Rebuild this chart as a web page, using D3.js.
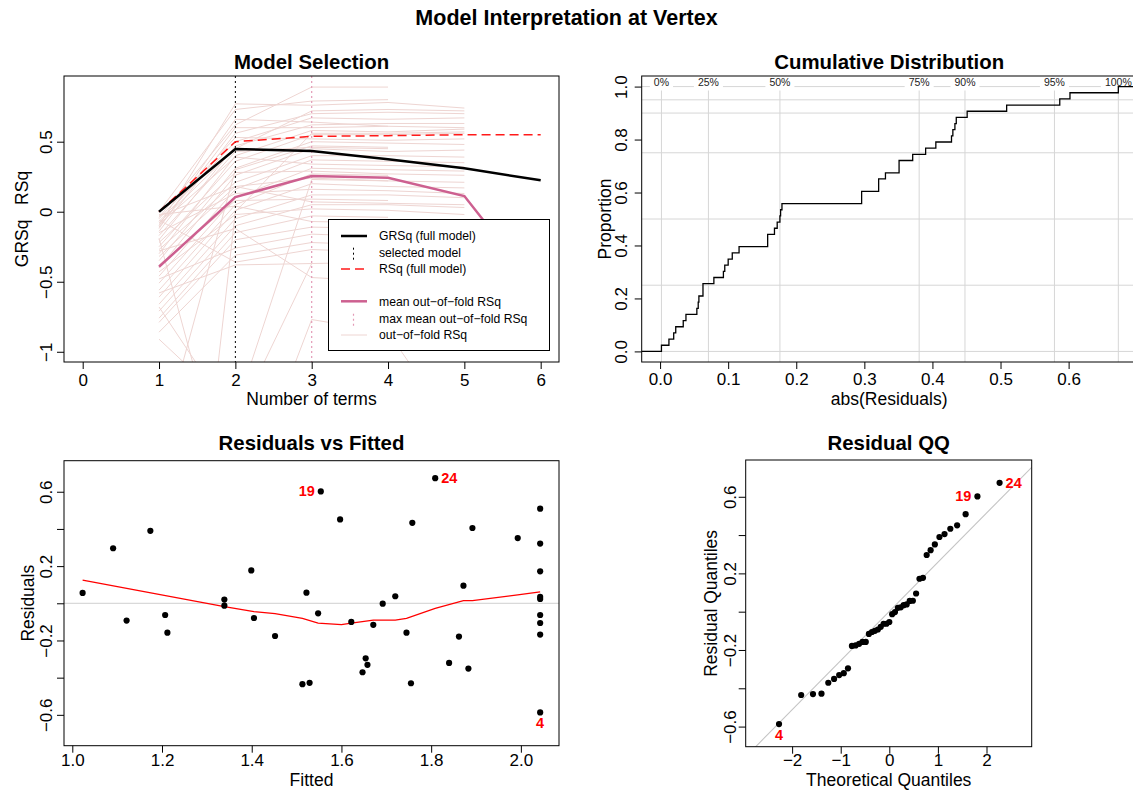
<!DOCTYPE html>
<html><head><meta charset="utf-8">
<script src="https://cdn.jsdelivr.net/npm/d3@7"></script>
<style>body{margin:0;background:#fff} svg{display:block} text{font-family:"Liberation Sans",Arial,Helvetica,sans-serif}</style>
</head><body><svg id="chart" width="1133" height="790"></svg>
<script>
// ================= DATA =================
const mainTitle = "Model Interpretation at Vertex";
// --- Model Selection ---
const termTicks = [0,1,2,3,4,5,6];
const termTickLabels = ["0","1","2","3","4","5","6"];
const rsqTicks = [-1,-0.5,0,0.5];
const rsqTickLabels = ["\u22121","\u22120.5","0","0.5"];
const terms = [1,2,3,4,5,6];
const grsqFull = [0.000, 0.448, 0.433, 0.374, 0.310, 0.224];
const rsqFull = [0.000, 0.500, 0.538, 0.543, 0.550, 0.550];
const meanOofRsq = [-0.393, 0.105, 0.255, 0.243, 0.112, -0.580];
const selectedTerms = 2;
const maxMeanOofTerms = 3;
// out-of-fold RSq per fold (values at 1, 2, 3, ... terms)
const oofRsq = [
  [-0.04, 0.62, 0.89, 0.89],
  [-0.10, 0.77, 0.76, 0.78, 0.74],
  [0.00, 0.73, 0.79, 0.80],
  [-0.14, 0.56, 0.70, 0.71, 0.70],
  [-0.07, 0.50, 0.67, 0.66, 0.67],
  [-0.20, 0.47, 0.62, 0.63, 0.63],
  [-0.12, 0.66, 0.64, 0.61],
  [-0.30, 0.40, 0.58, 0.57, 0.59],
  [-0.25, 0.36, 0.55, 0.55, 0.56],
  [-0.05, 0.53, 0.52, 0.51, 0.52],
  [-0.35, 0.31, 0.50, 0.49, 0.48],
  [-0.17, 0.43, 0.46, 0.45],
  [-0.40, 0.26, 0.45, 0.43, 0.44],
  [-0.27, 0.21, 0.40, 0.40, 0.39],
  [-0.46, 0.16, 0.37, 0.36, 0.35],
  [-0.09, 0.39, 0.34, 0.33, 0.32],
  [-0.51, 0.10, 0.31, 0.30, 0.29],
  [-0.22, 0.28, 0.29, 0.27, 0.26],
  [-0.56, 0.05, 0.27, 0.26],
  [-0.32, 0.18, 0.24, 0.22, 0.21],
  [-0.61, 0.01, 0.20, 0.18, 0.17],
  [-0.15, 0.13, 0.16, 0.15, 0.13],
  [-0.66, -0.05, 0.12, 0.12, 0.10],
  [-0.38, 0.08, 0.09, 0.08],
  [-0.71, -0.10, 0.05, 0.05, 0.03],
  [-0.43, -0.02, 0.02, 0.01, -0.02],
  [-0.76, -0.15, -0.03, -0.04],
  [-0.02, 0.04, -0.07, -0.08],
  [-0.79, -0.20, -0.11, -0.12],
  [-0.48, -0.26, -0.16, -0.18],
  [-0.86, -0.31, -0.22, -0.24],
  [-0.06, -0.36, -0.27, -0.29],
  [-0.91, -1.42, 0.23, 0.22],
  [-0.58, -0.38, -0.37],
  [-1.70, 0.30, 0.47, 0.46],
  [-4.80, 0.00, 0.56, 0.56, 0.57],
  [-0.68, -1.50, -0.37, -0.36],
  [-0.19, -2.20, -0.77, -0.86, -1.65],
  [-0.11, 0.60, 0.60, 0.61, 0.60],
  [-0.08, 0.45, 0.72, 0.73, 0.72],
  [-0.03, 0.18, 0.07, 0.06, 0.05],
  [-0.28, -0.12, -0.47, -0.50]
];
const legendLabels = ["GRSq (full model)","selected model","RSq (full model)","","mean out\u2212of\u2212fold RSq","max mean out\u2212of\u2212fold RSq","out\u2212of\u2212fold RSq"];

// --- Residuals (fitted, residual) ---
const fitted = [1.023,1.091,1.121,1.174,1.207,1.212,1.339,1.339,1.399,1.405,1.452,1.513,1.529,1.522,1.548,1.554,1.597,1.622,1.647,1.654,1.658,1.671,1.692,1.720,1.745,1.755,1.758,1.809,1.840,1.862,1.872,1.883,1.892,1.993,2.043,2.043,2.043,2.043,2.043,2.043,2.043,2.043,2.043];
const residuals = [0.056,0.296,-0.093,0.390,-0.063,-0.158,0.020,-0.013,0.177,-0.079,-0.176,-0.435,-0.428,0.057,-0.054,0.602,0.451,-0.100,-0.371,-0.296,-0.331,-0.116,-0.002,0.038,-0.158,-0.430,0.433,0.673,-0.321,-0.179,0.095,-0.351,0.405,0.351,0.509,0.321,0.172,0.034,0.023,-0.063,-0.106,-0.168,-0.587];
const labeledIdx = [42, 15, 27];
const labeledRow = ["4", "19", "24"];
const lowessX = [1.023,1.339,1.405,1.452,1.513,1.548,1.600,1.622,1.671,1.720,1.745,1.809,1.872,1.892,1.993,2.043];
const lowessY = [0.125,-0.018,-0.045,-0.056,-0.081,-0.107,-0.115,-0.107,-0.091,-0.091,-0.081,-0.027,0.014,0.014,0.045,0.061];
const fittedTicks = [1.0,1.2,1.4,1.6,1.8,2.0];
const fittedTickLabels = ["1.0","1.2","1.4","1.6","1.8","2.0"];
const residTicks = [-0.6,-0.4,-0.2,0,0.2,0.4,0.6];
const residTickLabels = ["\u22120.6","","\u22120.2","","0.2","","0.6"];
// --- Cumulative distribution ---
const cdfXTicks = [0,0.1,0.2,0.3,0.4,0.5,0.6];
const cdfXTickLabels = ["0.0","0.1","0.2","0.3","0.4","0.5","0.6"];
const cdfYTicks = [0,0.2,0.4,0.6,0.8,1.0];
const cdfYTickLabels = ["0.0","0.2","0.4","0.6","0.8","1.0"];
const quantileProbs = [0,0.25,0.5,0.75,0.9,0.95,1];
const quantileLabels = ["0%","25%","50%","75%","90%","95%","100%"];
// --- QQ ---
const qqXTicks = [-2,-1,0,1,2];
const qqXTickLabels = ["\u22122","\u22121","0","1","2"];

// ================= DRAW =================
const svg = d3.select("#chart");
const AX = 17, LAB = 17.5;

function clipFor(id, b){
  svg.append("clipPath").attr("id", id).append("rect")
    .attr("x", b.x0).attr("y", b.y0).attr("width", b.x1-b.x0).attr("height", b.y1-b.y0);
  return `url(#${id})`;
}
function axes(g, b, xs, ys, o){
  const gx = g.append("g").attr("transform", `translate(0,${b.y1})`)
    .call(d3.axisBottom(xs).tickValues(o.xt).tickSize(7).tickFormat((d,i)=>o.xl[i]));
  gx.select(".domain").remove();
  gx.selectAll("line").attr("stroke","#000");
  gx.selectAll("text").attr("y", o.xBase - b.y1).attr("dy", 0).style("font-size", AX+"px").attr("fill","#000");
  const gy = g.append("g").attr("transform", `translate(${b.x0},0)`)
    .call(d3.axisLeft(ys).tickValues(o.yt).tickSize(7).tickFormat((d,i)=>o.yl[i]));
  gy.select(".domain").remove();
  gy.selectAll("line").attr("stroke","#000");
  gy.selectAll("text").attr("transform","rotate(-90)").attr("x",0).attr("y", -o.yOff).attr("dy",0)
    .attr("text-anchor","middle").style("font-size", AX+"px").attr("fill","#000");
  // axis labels
  g.append("text").attr("x",(b.x0+b.x1)/2).attr("y",o.xLabBase).attr("text-anchor","middle")
    .style("font-size",LAB+"px").text(o.xLab);
  g.append("text").attr("transform",`translate(${b.x0-o.yLabOff},${(b.y0+b.y1)/2}) rotate(-90)`)
    .attr("text-anchor","middle").style("font-size",LAB+"px").style("white-space","pre")
    .attr("xml:space","preserve").text(o.yLab);
  // title
  g.append("text").attr("x",(b.x0+b.x1)/2).attr("y",o.titleBase).attr("text-anchor","middle")
    .style("font-size","20.4px").style("font-weight","bold").text(o.title);
}
function box(g,b){
  g.append("rect").attr("x",b.x0).attr("y",b.y0).attr("width",b.x1-b.x0).attr("height",b.y1-b.y0)
    .attr("fill","none").attr("stroke","#000").attr("stroke-width",1);
}

svg.append("text").attr("x",566.5).attr("y",25).attr("text-anchor","middle")
  .style("font-size","21.5px").style("font-weight","bold").text(mainTitle);

// ---------- Panel 1: Model Selection ----------
(function(){
  const b = {x0:64, x1:559, y0:76, y1:362};
  const xs = d3.scaleLinear().domain([-0.245, 6.24]).range([b.x0, b.x1]);
  const ys = d3.scaleLinear().domain([-1.073, 0.969]).range([b.y1, b.y0]);
  const g = svg.append("g");
  const clip = clipFor("clip1", b);
  const line = d3.line().x(d=>xs(d[0])).y(d=>ys(d[1]));
  const gc = g.append("g").attr("clip-path", clip);
  gc.selectAll("path.oof").data(oofRsq).join("path").attr("class","oof")
    .attr("d", arr => line(arr.map((v,i)=>[terms[i], v])))
    .attr("fill","none").attr("stroke","#eed5d2").attr("stroke-width",1);
  gc.append("line").attr("x1",xs(selectedTerms)).attr("x2",xs(selectedTerms)).attr("y1",b.y0).attr("y2",b.y1)
    .attr("stroke","#000").attr("stroke-width",1).attr("stroke-dasharray","2,3");
  gc.append("line").attr("x1",xs(maxMeanOofTerms)).attr("x2",xs(maxMeanOofTerms)).attr("y1",b.y0).attr("y2",b.y1)
    .attr("stroke","#e39ab6").attr("stroke-width",1.2).attr("stroke-dasharray","2,3");
  gc.append("path").attr("d", line(terms.map((t,i)=>[t, meanOofRsq[i]])))
    .attr("fill","none").attr("stroke","#cd6090").attr("stroke-width",2.5);
  gc.append("path").attr("d", line(terms.map((t,i)=>[t, rsqFull[i]])))
    .attr("fill","none").attr("stroke","#ff1a1a").attr("stroke-width",1.5).attr("stroke-dasharray","9,5");
  gc.append("path").attr("d", line(terms.map((t,i)=>[t, grsqFull[i]])))
    .attr("fill","none").attr("stroke","#000").attr("stroke-width",2.5);
  // legend
  const L = g.append("g");
  L.append("rect").attr("x",328.5).attr("y",219.5).attr("width",221).attr("height",131)
    .attr("fill","#fff").attr("stroke","#000").attr("stroke-width",1);
  const rowsY = [236, 252.7, 269, 285, 301.3, 318.7, 335];
  const sx0 = 341, sx1 = 367, sxm = 353.5;
  legendLabels.forEach((t,i)=>{
    if(!t) return;
    L.append("text").attr("x",379).attr("y",rowsY[i]+4.4).style("font-size","12.2px").text(t);
  });
  L.append("line").attr("x1",sx0).attr("x2",sx1).attr("y1",rowsY[0]).attr("y2",rowsY[0]).attr("stroke","#000").attr("stroke-width",2.5);
  L.append("line").attr("x1",sxm).attr("x2",sxm).attr("y1",rowsY[1]-5).attr("y2",rowsY[1]+8).attr("stroke","#000").attr("stroke-dasharray","2,3");
  L.append("line").attr("x1",sx0).attr("x2",sx1).attr("y1",rowsY[2]).attr("y2",rowsY[2]).attr("stroke","#ff1a1a").attr("stroke-width",1.5).attr("stroke-dasharray","9,5");
  L.append("line").attr("x1",sx0).attr("x2",sx1).attr("y1",rowsY[4]).attr("y2",rowsY[4]).attr("stroke","#cd6090").attr("stroke-width",2.5);
  L.append("line").attr("x1",sxm).attr("x2",sxm).attr("y1",rowsY[5]-5).attr("y2",rowsY[5]+8).attr("stroke","#e39ab6").attr("stroke-width",1.2).attr("stroke-dasharray","2,3");
  L.append("line").attr("x1",sx0).attr("x2",sx1).attr("y1",rowsY[6]).attr("y2",rowsY[6]).attr("stroke","#eed5d2").attr("stroke-width",1);
  box(g,b);
  axes(g,b,xs,ys,{xt:termTicks,xl:termTickLabels,yt:rsqTicks,yl:rsqTickLabels,xBase:386,yOff:11.6,
    xLab:"Number of terms",xLabBase:405,yLab:"GRSq   RSq",yLabOff:36.5,title:"Model Selection",titleBase:68.5});
})();

// ---------- Panel 2: Cumulative Distribution ----------
(function(){
  const b = {x0:641.7, x1:1136.7, y0:76, y1:362};
  const xs = d3.scaleLinear().domain([-0.027, 0.700]).range([b.x0, b.x1]);
  const ys = d3.scaleLinear().domain([-0.04, 1.04]).range([b.y1, b.y0]);
  const g = svg.append("g");
  const clip = clipFor("clip2", b);
  const absRes = residuals.map(Math.abs).sort(d3.ascending);
  const n = absRes.length;
  const gc = g.append("g").attr("clip-path", clip);
  gc.selectAll("line.h").data(quantileProbs).join("line").attr("class","h")
    .attr("x1",b.x0).attr("x2",b.x1).attr("y1",d=>ys(d)).attr("y2",d=>ys(d))
    .attr("stroke","#d6d6d6").attr("stroke-width",1);
  const qv = quantileProbs.map(p=>d3.quantileSorted(absRes, p));
  gc.selectAll("line.v").data(qv).join("line").attr("class","v")
    .attr("x1",d=>xs(d)).attr("x2",d=>xs(d)).attr("y1",b.y1).attr("y2",90.5)
    .attr("stroke","#d6d6d6").attr("stroke-width",1);
  const lg = gc.append("g");
  qv.forEach((v,i)=>{
    const t = lg.append("text").attr("x",xs(v)).attr("y",86).attr("text-anchor","middle")
      .style("font-size","10.5px").attr("fill","#222").text(quantileLabels[i]);
    const bb = t.node().getBBox();
    lg.insert("rect","text").attr("x",bb.x-4).attr("y",76.8).attr("width",bb.width+8).attr("height",11.4).attr("fill","#fff");
  });
  const pts = [[xs.domain()[0],0]].concat(absRes.map((v,i)=>[v,(i+1)/n])).concat([[xs.domain()[1],1]]);
  gc.append("path").attr("d", d3.line().curve(d3.curveStepAfter).x(d=>xs(d[0])).y(d=>ys(d[1]))(pts))
    .attr("fill","none").attr("stroke","#000").attr("stroke-width",1.3);
  box(g,b);
  axes(g,b,xs,ys,{xt:cdfXTicks,xl:cdfXTickLabels,yt:cdfYTicks,yl:cdfYTickLabels,xBase:385,yOff:14.4,
    xLab:"abs(Residuals)",xLabBase:405,yLab:"Proportion",yLabOff:31,title:"Cumulative Distribution",titleBase:68.5});
})();

// ---------- Panel 3: Residuals vs Fitted ----------
(function(){
  const b = {x0:64, x1:559, y0:460.7, y1:745.7};
  const xs = d3.scaleLinear().domain([0.9815, 2.085]).range([b.x0, b.x1]);
  const ys = d3.scaleLinear().domain([-0.766, 0.767]).range([b.y1, b.y0]);
  const g = svg.append("g");
  const clip = clipFor("clip3", b);
  const gc = g.append("g").attr("clip-path", clip);
  gc.append("line").attr("x1",b.x0).attr("x2",b.x1).attr("y1",ys(0)).attr("y2",ys(0)).attr("stroke","#cfcfcf");
  gc.append("path").attr("d", d3.line().x(d=>xs(d[0])).y(d=>ys(d[1]))(lowessX.map((x,i)=>[x,lowessY[i]])))
    .attr("fill","none").attr("stroke","#ff0000").attr("stroke-width",1.2);
  gc.selectAll("circle").data(fitted).join("circle")
    .attr("cx",d=>xs(d)).attr("cy",(d,i)=>ys(residuals[i])).attr("r",3.1).attr("fill","#000");
  const pos = [[0,16,"middle"],[-6,5,"end"],[6,5,"start"]];
  labeledIdx.forEach((k,j)=>{
    g.append("text").attr("x",xs(fitted[k])+pos[j][0]).attr("y",ys(residuals[k])+pos[j][1])
      .attr("text-anchor",pos[j][2]).attr("fill","#ff0000").style("font-weight","bold").style("font-size","14.5px").text(labeledRow[j]);
  });
  box(g,b);
  axes(g,b,xs,ys,{xt:fittedTicks,xl:fittedTickLabels,yt:residTicks,yl:residTickLabels,xBase:766,yOff:11.6,
    xLab:"Fitted",xLabBase:786,yLab:"Residuals",yLabOff:30,title:"Residuals vs Fitted",titleBase:450});
})();

// ---------- Panel 4: Residual QQ ----------
(function(){
  function qnorm(p){
    const a=[-3.969683028665376e+01,2.209460984245205e+02,-2.759285104469687e+02,1.383577518672690e+02,-3.066479806614716e+01,2.506628277459239e+00];
    const bb=[-5.447609879822406e+01,1.615858368580409e+02,-1.556989798598866e+02,6.680131188771972e+01,-1.328068155288572e+01];
    const c=[-7.784894002430293e-03,-3.223964580411365e-01,-2.400758277161838e+00,-2.549732539343734e+00,4.374664141464968e+00,2.938163982698783e+00];
    const d=[7.784695709041462e-03,3.224671290700398e-01,2.445134137142996e+00,3.754408661907416e+00];
    const pl=0.02425;
    if(p<pl){const q=Math.sqrt(-2*Math.log(p));return (((((c[0]*q+c[1])*q+c[2])*q+c[3])*q+c[4])*q+c[5])/((((d[0]*q+d[1])*q+d[2])*q+d[3])*q+1);}
    if(p>1-pl){const q=Math.sqrt(-2*Math.log(1-p));return -(((((c[0]*q+c[1])*q+c[2])*q+c[3])*q+c[4])*q+c[5])/((((d[0]*q+d[1])*q+d[2])*q+d[3])*q+1);}
    const q=p-0.5,r=q*q;return (((((a[0]*r+a[1])*r+a[2])*r+a[3])*r+a[4])*r+a[5])*q/(((((bb[0]*r+bb[1])*r+bb[2])*r+bb[3])*r+bb[4])*r+1);
  }
  const b = {x0:745.7, x1:1031.7, y0:460, y1:746.7};
  const xs = d3.scaleLinear().domain([-2.955, 2.93]).range([b.x0, b.x1]);
  const ys = d3.scaleLinear().domain([-0.705, 0.792]).range([b.y1, b.y0]);
  const g = svg.append("g");
  const clip = clipFor("clip4", b);
  const gc = g.append("g").attr("clip-path", clip);
  const n = residuals.length;
  const order = d3.range(n).sort((i,j)=>residuals[i]-residuals[j]);
  const theo = d3.range(n).map(i=>qnorm((i+0.5)/n));
  const sorted = order.map(i=>residuals[i]);
  const y1 = d3.quantileSorted(sorted,0.25), y2 = d3.quantileSorted(sorted,0.75);
  const x1 = qnorm(0.25), x2 = qnorm(0.75);
  const slope = (y2-y1)/(x2-x1), icpt = y1 - slope*x1;
  const [dx0,dx1] = xs.domain();
  gc.append("line").attr("x1",xs(dx0)).attr("x2",xs(dx1)).attr("y1",ys(icpt+slope*dx0)).attr("y2",ys(icpt+slope*dx1))
    .attr("stroke","#c4c4c4").attr("stroke-width",1.1);
  gc.selectAll("circle").data(sorted).join("circle")
    .attr("cx",(d,i)=>xs(theo[i])).attr("cy",d=>ys(d)).attr("r",3.1).attr("fill","#000");
  const pos = [[0,16,"middle"],[-6,5,"end"],[6,5,"start"]];
  labeledIdx.forEach((k,j)=>{
    const rank = order.indexOf(k);
    g.append("text").attr("x",xs(theo[rank])+pos[j][0]).attr("y",ys(residuals[k])+pos[j][1])
      .attr("text-anchor",pos[j][2]).attr("fill","#ff0000").style("font-weight","bold").style("font-size","14.5px").text(labeledRow[j]);
  });
  box(g,b);
  axes(g,b,xs,ys,{xt:qqXTicks,xl:qqXTickLabels,yt:residTicks,yl:residTickLabels,xBase:766,yOff:9.5,
    xLab:"Theoretical Quantiles",xLabBase:786,yLab:"Residual Quantiles",yLabOff:28.5,title:"Residual QQ",titleBase:450});
})();
</script>
</body></html>
